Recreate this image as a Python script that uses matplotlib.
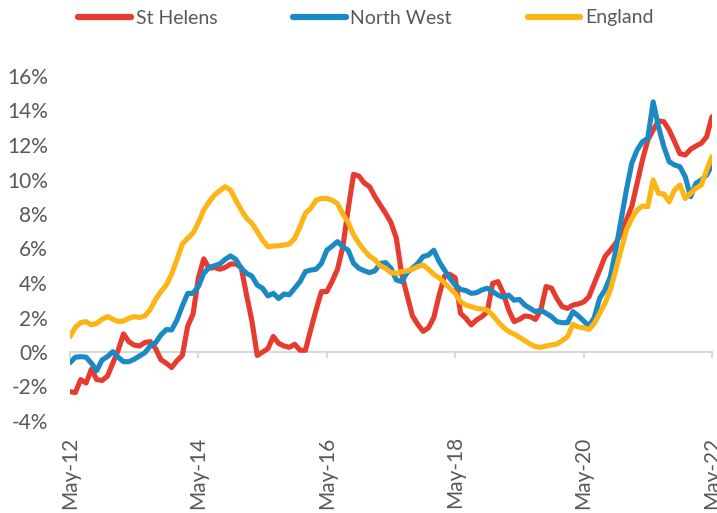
import numpy as np
import pandas as pd
import matplotlib
matplotlib.use('Agg')
import matplotlib.pyplot as plt

# monthly values, May-12 .. May-22 (% change)
months = pd.date_range('2012-05-01', periods=121, freq='MS')

st_helens = [
    -2.3, -2.35, -1.6, -1.8, -1.0, -1.6, -1.65, -1.4, -0.65, 0.1, 1.05, 0.6, 0.4, 0.35, 0.55, 0.6,
    0.2, -0.45, -0.65, -0.9, -0.5, -0.2, 1.5, 2.2, 4.3,
    5.4, 4.85, 4.9, 4.8, 4.9, 5.1, 5.1, 4.9, 3.3, 1.8, -0.2, 0.0, 0.2, 0.9, 0.5, 0.35, 0.27, 0.45,
    0.1, 0.1, 1.3, 2.45, 3.5, 3.5,
    4.1, 4.8, 6.1, 8.3, 10.3, 10.2, 9.8, 9.58, 9.0, 8.52, 8.04, 7.5, 6.6, 4.5, 3.3, 2.1, 1.6, 1.2,
    1.4, 2.0, 3.3, 4.4, 4.5, 4.3,
    2.24, 1.95, 1.57, 1.86, 2.05, 2.34, 3.98, 4.08, 3.4, 2.43, 1.76, 1.89, 2.09, 2.05, 1.89, 2.43,
    3.8, 3.7, 3.1, 2.63, 2.53, 2.72, 2.78, 2.9,
    3.2, 3.98, 4.75, 5.53, 5.9, 6.3, 6.88, 7.65, 8.43, 9.78, 11.13, 12.29, 12.87, 13.4, 13.35,
    12.87, 12.19, 11.5, 11.42, 11.75, 11.94, 12.1, 12.48, 13.64,
]

north_west = [
    -0.62, -0.3, -0.27, -0.3, -0.65, -1.08, -0.46, -0.27, 0.02, -0.3, -0.56, -0.56, -0.42, -0.23,
    -0.04, 0.35, 0.54, 0.99, 1.3, 1.28, 1.86, 2.67, 3.4, 3.4, 3.8,
    4.56, 4.9, 5.0, 5.1, 5.37, 5.57, 5.37, 4.85, 4.56, 4.4, 3.88, 3.69, 3.25, 3.4, 3.1, 3.36, 3.32,
    3.7, 4.08, 4.66, 4.75, 4.8, 5.14, 5.9,
    6.14, 6.4, 6.1, 5.9, 5.14, 4.85, 4.71, 4.6, 4.71, 5.14, 5.18, 4.85, 4.17, 4.08, 4.6, 4.85, 5.14,
    5.53, 5.62, 5.9, 5.24, 4.75, 4.27, 3.88,
    3.63, 3.56, 3.4, 3.44, 3.6, 3.7, 3.5, 3.3, 3.17, 3.3, 3.0, 3.05, 2.72, 2.53, 2.34, 2.43, 2.24,
    2.05, 1.76, 1.7, 1.7, 2.34, 2.1, 1.8,
    1.5, 2.0, 3.11, 3.6, 4.37, 5.9, 7.65, 9.39, 10.94, 11.71, 12.19, 12.4, 14.5, 13.06, 11.9, 11.03,
    10.84, 10.74, 10.16, 9.0, 9.78, 9.97, 10.26, 10.84,
]

england = [
    0.89, 1.43, 1.7, 1.76, 1.57, 1.66, 1.9, 2.05, 1.9, 1.76, 1.8, 1.95, 2.05, 2.0, 2.09, 2.47, 3.05,
    3.5, 3.88, 4.52, 5.37, 6.26, 6.59, 6.9, 7.5,
    8.23, 8.7, 9.1, 9.35, 9.58, 9.39, 8.8, 8.23, 7.75, 7.46, 6.98, 6.49, 6.1, 6.14, 6.16, 6.2, 6.26,
    6.59, 7.27, 8.04, 8.33, 8.8, 8.9, 8.9,
    8.8, 8.6, 8.0, 7.5, 6.8, 6.3, 5.9, 5.55, 5.35, 5.0, 4.85, 4.6, 4.56, 4.66, 4.71, 4.79, 4.95,
    5.04, 4.8, 4.5, 4.3, 4.0, 3.7, 3.4,
    2.92, 2.72, 2.63, 2.53, 2.49, 2.43, 2.14, 1.76, 1.43, 1.18, 1.04, 0.85, 0.66, 0.46, 0.31, 0.27,
    0.35, 0.41, 0.46, 0.66, 0.89, 1.6, 1.45, 1.4,
    1.31, 1.66, 2.24, 2.82, 3.6, 4.75, 5.91, 7.07, 7.75, 8.23, 8.46, 8.43, 9.97, 9.2, 9.16, 8.71,
    9.39, 9.68, 8.9, 9.2, 9.49, 9.68, 10.55, 11.32,
]

series = [('St Helens', st_helens, '#E63B2E'),
          ('North West', north_west, '#1B8AC4'),
          ('England', england, '#FDB515')]

y_ticks = [-4, -2, 0, 2, 4, 6, 8, 10, 12, 14, 16]
tick_step = 24

grey = '#595959'
axis_grey = '#D9D9D9'

plt.rcParams['font.family'] = ['Lato', 'DejaVu Sans']

fig = plt.figure(figsize=(7.17, 5.13), dpi=100)
ax = fig.add_axes([70 / 717, 1 - 421 / 513, 642 / 717, 345 / 513])

x = np.arange(len(months))
for name, vals, col in series:
    ax.plot(x, vals, color=col, lw=3.7, label=name,
            solid_joinstyle='round', solid_capstyle='round')

ax.set_xlim(0, len(months) - 1)
ax.set_ylim(min(y_ticks), max(y_ticks))
ax.set_yticks(y_ticks)
ax.set_yticklabels([f'{v}%' for v in y_ticks])
ax.tick_params(axis='y', length=0, pad=16, labelsize=15, labelcolor=grey)

for s in ['top', 'right', 'left']:
    ax.spines[s].set_visible(False)
ax.spines['bottom'].set_position(('data', 0))
ax.spines['bottom'].set_color(axis_grey)
ax.spines['bottom'].set_linewidth(1.5)
ax.spines['bottom'].set_zorder(0)

tick_pos = x[::tick_step]
ax.set_xticks(tick_pos)
ax.set_xticklabels([])
ax.tick_params(axis='x', direction='out', length=4.5, width=1.5, color=axis_grey)

secax = ax.secondary_xaxis('bottom')
secax.set_xticks(tick_pos)
secax.set_xticklabels([months[i].strftime('%b-%y') for i in tick_pos], rotation=90)
secax.tick_params(length=0, pad=11, labelsize=15, labelcolor=grey)
secax.spines['bottom'].set_visible(False)

leg = fig.legend(loc='center', bbox_to_anchor=(366 / 717, 1 - 18 / 513), ncol=3,
                 frameon=False, fontsize=14, handlelength=2.7, handletextpad=0.25,
                 columnspacing=3.9, labelcolor=grey)
for h in leg.get_lines():
    h.set_linewidth(4.5)

fig.savefig('out.png', dpi=100)
